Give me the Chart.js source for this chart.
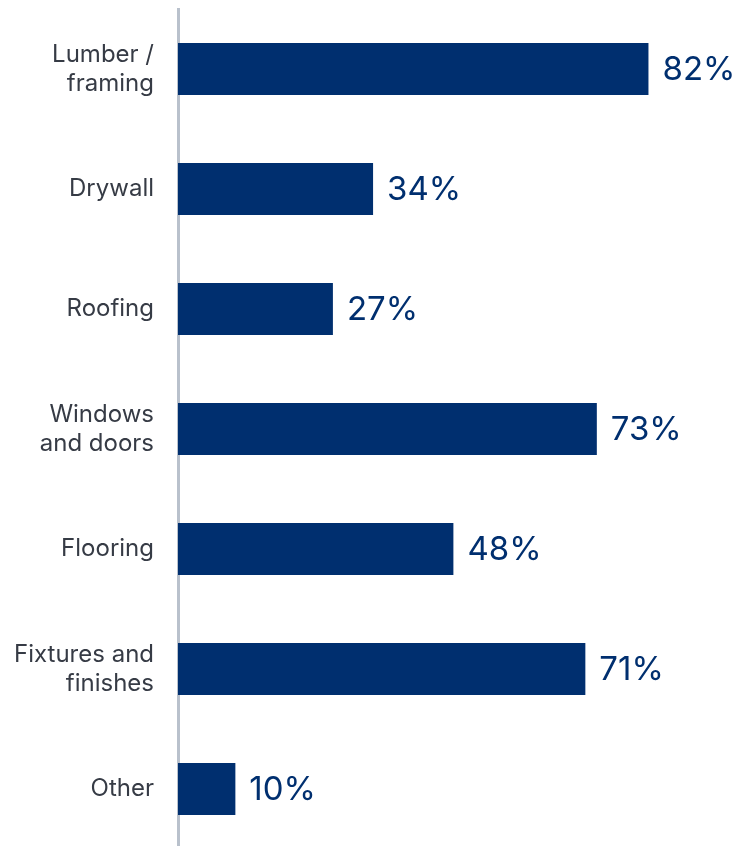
<!DOCTYPE html>
<html>
<head>
<meta charset="utf-8">
<script src="https://cdn.jsdelivr.net/npm/chart.js@4"></script>
<style>
  html, body { margin: 0; padding: 0; background: #fff; overflow: hidden; }
  #wrap { width: 746px; height: 849px; position: relative; }
</style>
</head>
<body>
<div id="wrap"><canvas id="chart"></canvas></div>
<script>
// data
const categories = [
    ["Lumber /", "framing"],
    "Drywall",
    "Roofing",
    ["Windows", "and doors"],
    "Flooring",
    ["Fixtures and", "finishes"],
    "Other"
];
const shares = [82, 34, 27, 73, 48, 71, 10];

const NAVY = "#002f6f";

// value labels at bar ends
const valueLabels = {
    id: "valueLabels",
    afterDatasetsDraw(chart) {
        const ctx = chart.ctx;
        const meta = chart.getDatasetMeta(0);
        ctx.save();
        ctx.font = "33px Inter";
        ctx.fillStyle = NAVY;
        ctx.textAlign = "left";
        ctx.textBaseline = "middle";
        meta.data.forEach((bar, i) => {
            ctx.fillText(shares[i] + "%", bar.x + 14, bar.y + 1.5);
        });
        ctx.restore();
    }
};

new Chart(document.getElementById("chart"), {
    type: "bar",
    data: {
        labels: categories,
        datasets: [{
            data: shares,
            backgroundColor: NAVY,
            borderWidth: 0,
            barPercentage: 0.435,
            categoryPercentage: 1
        }]
    },
    options: {
        indexAxis: "y",
        responsive: true,
        maintainAspectRatio: false,
        animation: false,
        layout: { padding: { top: 9, bottom: 0, right: 0, left: 0 } },
        plugins: {
            legend: { display: false },
            tooltip: { enabled: false }
        },
        scales: {
            x: {
                display: false,
                min: 0,
                max: 99
            },
            y: {
                grid: { display: false, drawTicks: false },
                border: { display: true, color: "#b9c1cc", width: 3 },
                ticks: {
                    color: "#363b45",
                    padding: 24,
                    font: { family: "Inter", size: 24, lineHeight: 1.2 }
                },
                afterFit: (scale) => {
                    scale.width = 178;
                    scale.paddingTop = 0;
                    scale.paddingBottom = 0;
                }
            }
        }
    },
    plugins: [valueLabels]
});
</script>
</body>
</html>
